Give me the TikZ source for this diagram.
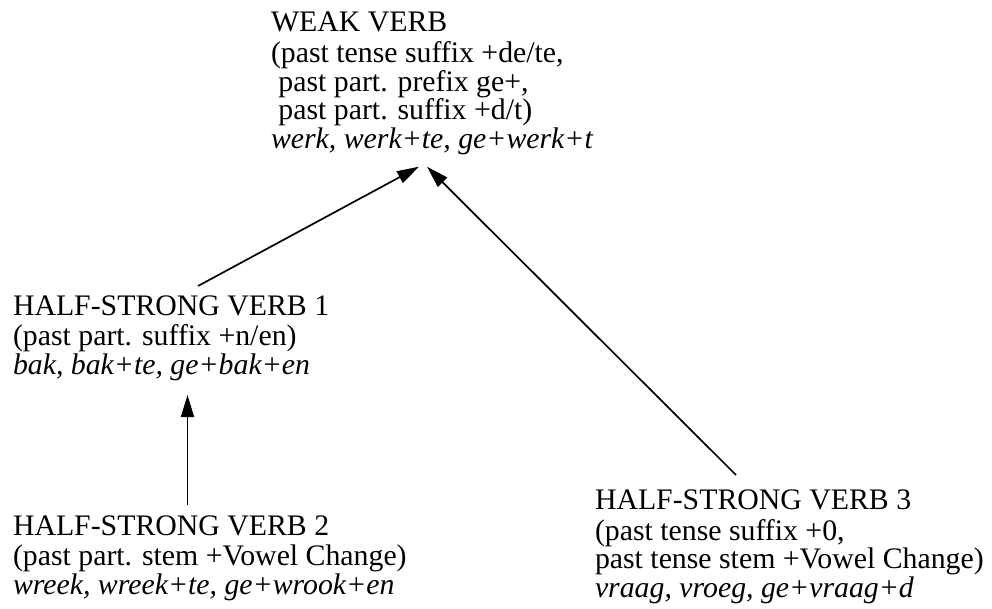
\documentclass[tikz,border=0pt]{standalone}
\usepackage{fontspec}
\setmainfont{Liberation Serif}
\usetikzlibrary{arrows.meta}
\begin{document}
\begin{tikzpicture}[x=1pt,y=1pt,
  blk/.style={anchor=north west, inner sep=0pt, outer sep=0pt, align=left,
    font=\fontsize{29.8}{28.75}\selectfont},
  conn/.style={line width=1.7pt, -{Triangle[length=22pt,width=13pt]}}]
\useasboundingbox (0,0) rectangle (992,-609);
\node[blk] (weak) at (271,-11.6) {\strut WEAK VERB\\
(past tense suffix +de/te,\\
\hspace*{0.25em}past part. prefix ge+,\\
\hspace*{0.25em}past part. suffix +d/t)\\
\textit{werk, werk+te, ge+werk+t}};
\node[blk] (hsa) at (13,-294.9) {\strut HALF-STRONG VERB 1\\
(past part. suffix +n/en)\\
\textit{bak, bak+te, ge+bak+en}};
\node[blk] (hsb) at (13,-515.5) {\strut HALF-STRONG VERB 2\\
(past part. stem +Vowel Change)\\
\textit{wreek, wreek+te, ge+wrook+en}};
\node[blk] (hsc) at (595,-489.4) {\strut HALF-STRONG VERB 3\\
(past tense suffix +0,\\
past tense stem +Vowel Change)\\
\textit{vraag, vroeg, ge+vraag+d}};
\draw[conn] ([shift={(185,8.9)}]hsa.north west) -- ([shift={(148,-155.1)}]weak.north west);
\draw[conn] ([shift={(141,14.4)}]hsc.north west) -- ([shift={(156,-155.1)}]weak.north west);
\draw[conn] ([shift={(174.5,10.5)}]hsb.north west) -- ([shift={(174.5,-100.1)}]hsa.north west);
\end{tikzpicture}
\end{document}
